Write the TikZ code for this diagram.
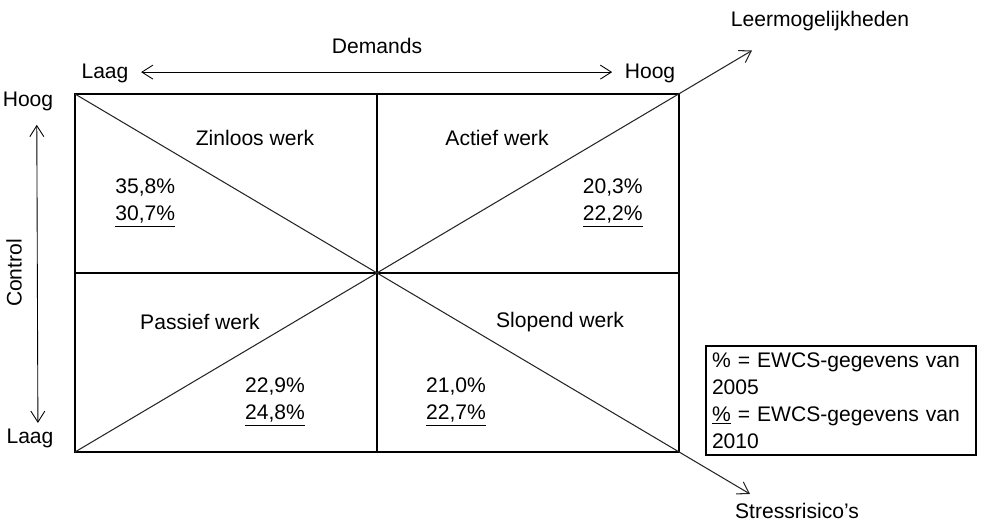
\documentclass[tikz,border=0pt]{standalone}
\usepackage{fontspec}
\setmainfont{Liberation Sans}
\usepackage{tikz}
\usetikzlibrary{arrows.meta}

\begin{document}
\begin{tikzpicture}[>={Straight Barb[length=2.2mm, width=2.8mm]}, every node/.style={font=\fontsize{12}{15.3}\selectfont, inner sep=0pt}, pct/.style={align=left}, axis/.style={<->, line width=0.5pt}, diag/.style={->, line width=0.6pt, black!85}]
	\useasboundingbox (0,0) rectangle (19.84,10.48);
	% field
	\coordinate (tl) at (1.5,8.6); \coordinate (tr) at (13.58,8.6);
	\coordinate (bl) at (1.5,1.44); \coordinate (br) at (13.58,1.44);
	\coordinate (tm) at (7.54,8.6); \coordinate (bm) at (7.54,1.44);
	\coordinate (ml) at (1.5,5.02); \coordinate (mr) at (13.58,5.02);
	\coordinate (learn) at (15.04,9.47); \coordinate (stress) at (15.0,0.6);
	\draw[line width=0.6pt] (tl) -- (tr) -- (br) -- (bl) -- cycle;
	\draw[line width=0.6pt] (tm) -- (bm); \draw[line width=0.6pt] (ml) -- (mr);
	\draw[diag] (bl) -- (learn);
	\draw[diag] (tl) -- (stress);
	% axes
	\node (dem) at (7.54,9.56) {Demands};
	\node (dlow) at (2.1,9.02) {Laag};
	\node (dhigh) at (13.0,9.02) {Hoog};
	\draw[axis] ([xshift=7pt,yshift=0.5pt]dlow.east) -- ([xshift=-7pt,yshift=0.5pt]dhigh.west);
	\node (chigh) at (0.56,8.46) {Hoog};
	\node (clow) at (0.6,1.72) {Laag};
	\node[rotate=90] (ctrl) at (0.28,5.02) {Control};
	\draw[axis] ([xshift=5pt,yshift=-8pt]chigh.south) -- ([xshift=4.5pt,yshift=3pt]clow.north);
	\node (lm) at (16.4,10.06) {Leermogelijkheden};
	\node (sr) at (15.94,0.26) {Stressrisico's};
	% quadrants
	\node (q1) at (5.1,7.72) {Zinloos werk};
	\node (q2) at (9.94,7.72) {Actief werk};
	\node (q3) at (4.0,4.04) {Passief werk};
	\node (q4) at (11.2,4.04) {Slopend werk};
	\node[pct, anchor=west] (p1) at (2.3,6.42) {35,8\%\\\underline{30,7\%}};
	\node[pct, anchor=east, align=right] (p2) at (12.86,6.42) {20,3\%\\\underline{22,2\%}};
	\node[pct] (p3) at (5.5,2.44) {22,9\%\\\underline{24,8\%}};
	\node[pct] (p4) at (9.12,2.44) {21,0\%\\\underline{22,7\%}};
	% legend
	\node[draw, line width=0.6pt, pct, text width=5.16cm, inner sep=0.12cm, minimum height=2.18cm] (leg) at (16.82,2.47) {\% = EWCS-gegevens van\\2005\\\underline{\%} = EWCS-gegevens van\\2010};
\end{tikzpicture}
\end{document}
